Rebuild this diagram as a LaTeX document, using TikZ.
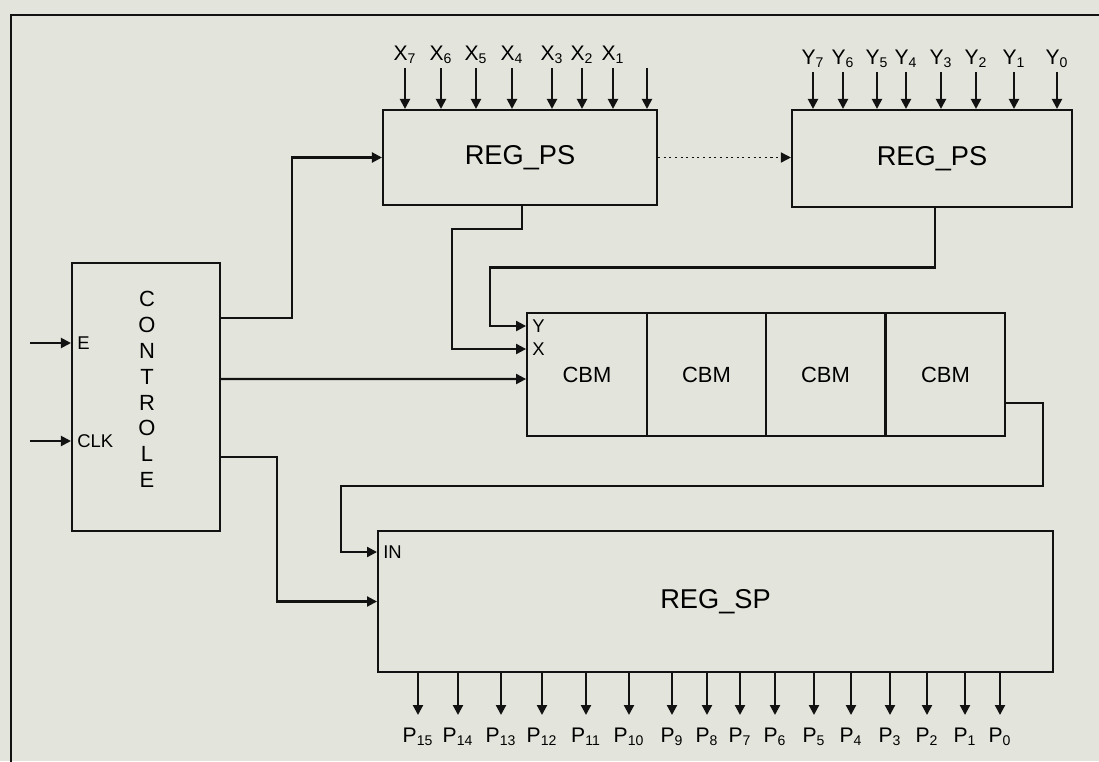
\documentclass[tikz,border=0pt]{standalone}
\usepackage{fontspec}
\setmainfont{Liberation Sans}
\usetikzlibrary{positioning, arrows.meta, calc}

\definecolor{paper}{RGB}{227,229,220}
\definecolor{ink}{RGB}{18,18,18}

\tikzset{
	box/.style={draw=ink, line width=1.2pt, rectangle, inner sep=0pt},
	wire/.style={draw=ink, line width=1.2pt},
	arr/.style={wire, -{Triangle[length=2mm, width=2mm]}},
	regfont/.style={font=\fontsize{15.5}{18}\selectfont},
	cellfont/.style={font=\fontsize{12.5}{15}\selectfont},
	pin/.style={inner sep=1pt, font=\fontsize{12}{14}\selectfont},
	port/.style={inner sep=0pt, anchor=west, font=\fontsize{10.5}{12}\selectfont},
	letter/.style={inner sep=0pt, font=\fontsize{12.5}{15}\selectfont},
}

\begin{document}
\begin{tikzpicture}[x=0.02cm, y=-0.02cm]
	\useasboundingbox (0,0) rectangle (1099,761);
	\fill[paper] (0,0) rectangle (1099,761);
	\draw[ink, line width=1.3pt] (11,790) -- (11,15) -- (1120,15);

	% registers and cells
	\node[box, regfont, minimum width=5.48cm, minimum height=1.9cm] (psx) at (520,157.5) {REG\_PS};
	\node[box, regfont, minimum width=5.6cm, minimum height=1.94cm] (psy) at (932,158.5) {REG\_PS};
	\node[box, minimum width=2.96cm, minimum height=5.36cm] (ctl) at (146,397) {};
	\foreach \cx [count=\i] in {587,706.5,825.5,945.5}
		\node[box, cellfont, minimum width=2.395cm, minimum height=2.46cm] (cbm\i) at (\cx,374.5) {CBM};
	\node[box, regfont, minimum width=13.5cm, minimum height=2.82cm] (sp) at (715.5,601.5) {REG\_SP};

	\foreach \c [count=\i] in {C,O,N,T,R,O,L,E}
		\node[letter] (ctl\i) at (147,273+25.9*\i) {\c};

	% inputs of the registers
	\foreach \xp [count=\i] in {405,441,476,512,552,582,613} {
		\pgfmathtruncatemacro\n{8-\i}
		\node[pin] (x\n) at (\xp,55) {X\textsubscript{\n}};
		\coordinate (xt\n) at (\xp,68);
		\draw[arr] (xt\n) -- (xt\n |- psx.north);
	}
	\coordinate (xt0) at (647,68);
	\draw[arr] (xt0) -- (xt0 |- psx.north);
	\foreach \yp [count=\i] in {813,843,877,906,941,976,1014,1057} {
		\pgfmathtruncatemacro\n{8-\i}
		\node[pin] (y\n) at (\yp,59) {Y\textsubscript{\n}};
		\coordinate (yt\n) at (\yp,72);
		\draw[arr] (yt\n) -- (yt\n |- psy.north);
	}

	% outputs
	\foreach \pp [count=\i] in {418,458,501,542,586,629,672,707,740,775,814,851,890,927,965,1000} {
		\pgfmathtruncatemacro\n{16-\i}
		\node[pin] (p\n) at (\pp,737) {P\textsubscript{\n}};
		\coordinate (pb\n) at (\pp,715);
		\draw[arr] (pb\n |- sp.south) -- (pb\n);
	}

	% control inputs
	\node[port] (e) at (77,343) {E};
	\node[port] (clk) at (77,441) {CLK};
	\coordinate (ein) at (30,343);
	\coordinate (clkin) at (30,441);
	\draw[arr] (ein) -- (ein -| ctl.west);
	\draw[arr] (clkin) -- (clkin -| ctl.west);

	% wiring
	\draw[arr] ($(ctl.east)+(0,-79)$) -- ++(71,0) |- (psx.west);
	\draw[arr] ($(ctl.east)+(0,-18)$) -- ($(cbm1.west)+(0,4.5)$);
	\draw[arr] ($(ctl.east)+(0,60)$) -- ++(56,0) |- (sp.west);
	\draw[arr] ($(psx.south)+(2,0)$) -- ++(0,23) -- ++(-70,0) |- ($(cbm1.west)+(0,-25.5)$);
	\draw[arr] ($(psy.south)+(3,0)$) -- ++(0,59.5) -- ++(-445,0) |- ($(cbm1.west)+(0,-48.5)$);
	\draw[arr] ($(cbm4.east)+(0,28.5)$) -- ++(37,0) -- ++(0,83) -- ++(-702,0) |- ($(sp.west)+(0,-49.5)$);
	\draw[arr, dotted, line width=0.8pt] (psx.east) -- (psx.east -| psy.west);

	\node[port] (ylab) at (532,326) {Y};
	\node[port] (xlab) at (532,349) {X};
	\node[port] (inlab) at (383,552) {IN};
\end{tikzpicture}
\end{document}
